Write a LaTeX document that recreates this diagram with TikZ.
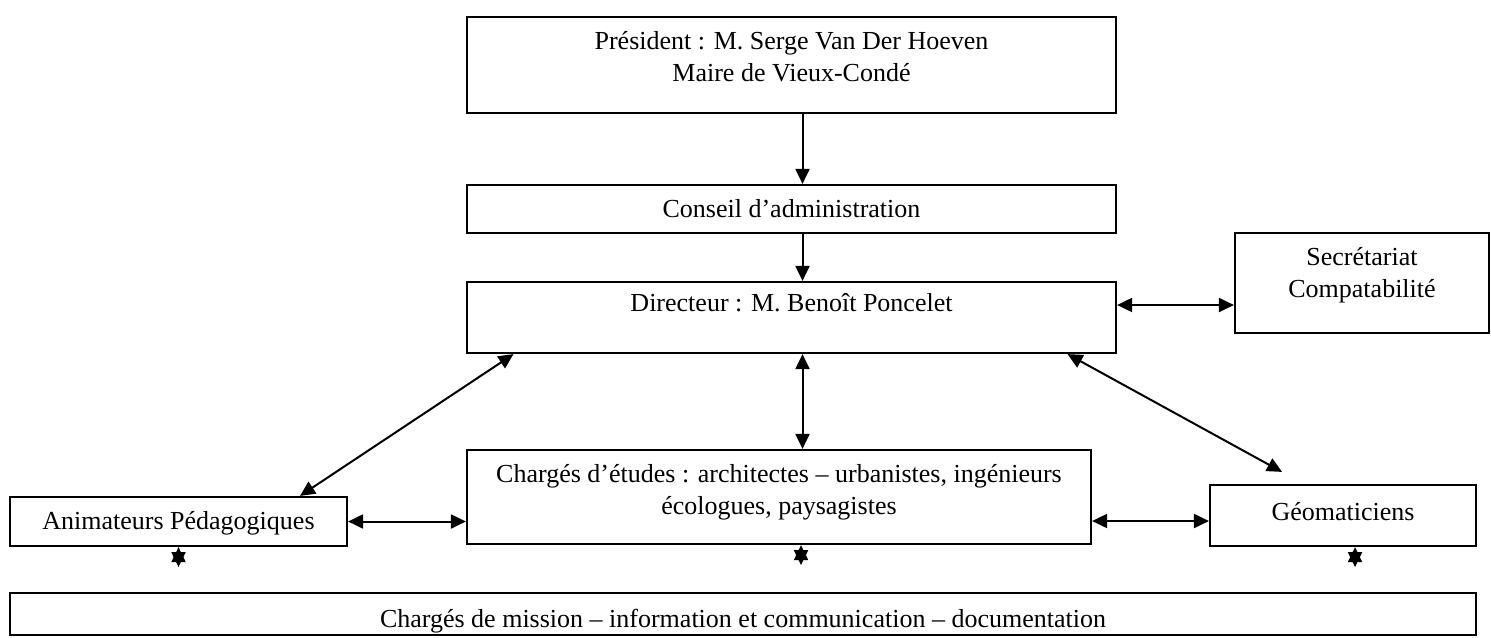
\documentclass[tikz,border=0pt]{standalone}
\usepackage{fontspec}
\setmainfont{Liberation Serif}
\usepackage{tikz}
\usetikzlibrary{arrows.meta}

\tikzset{
  arr/.style={-{Triangle[length=7.5pt,width=7pt]}, line width=1pt},
  twoway/.style={{Triangle[length=7.5pt,width=7pt]}-{Triangle[length=7.5pt,width=7pt]}, line width=1pt}
}

\begin{document}
\begin{tikzpicture}[node distance=50pt, every node/.style={rectangle, draw, line width=1.1pt, inner sep=0pt, align=center, text height=16pt, font=\fontsize{13pt}{16pt}\selectfont}]
    \useasboundingbox (0,0) rectangle (745.5pt,-318.5pt);
    \node (pres) [minimum width=324.5pt, text height=32pt, text depth=16pt] at (395.75pt,-32.5pt) {Président : M. Serge Van Der Hoeven\\Maire de Vieux-Condé};
    \node (conseil) [below of=pres, yshift=-22pt, minimum width=324.5pt, text depth=8pt] {Conseil d’administration};
    \node (dir) [below of=conseil, yshift=-4.25pt, minimum width=324.5pt, text height=14.5pt, text depth=21pt] {Directeur : M. Benoît Poncelet};
    \node (sec) [right of=dir, xshift=235.25pt, yshift=17.25pt, minimum width=127pt, text height=32pt, text depth=18pt] {Secrétariat\\Compatabilité};
    \node (charges) [below of=dir, xshift=-6.25pt, yshift=-39.75pt, minimum width=312pt, text height=32pt, text depth=15pt] {Chargés d’études : architectes – urbanistes, ingénieurs\\écologues, paysagistes};
    \node (anim) [left of=charges, xshift=-250.25pt, yshift=-12.25pt, minimum width=168.5pt, text depth=8.5pt] {Animateurs Pédagogiques};
    \node (geo) [right of=charges, xshift=232pt, yshift=-9.25pt, minimum width=133pt, text height=17.5pt, text depth=13pt] {Géomaticiens};
    \node (mission) [below of=charges, xshift=-18pt, yshift=-8.5pt, minimum width=733pt, text height=17pt, text depth=4pt] {Chargés de mission – information et communication – documentation};
    \coordinate (geotip) at ([xshift=-30.5pt, yshift=6pt]geo.north);

    \draw[arr] ([xshift=5.5pt]pres.south) -- ([xshift=5.5pt]pres.south |- conseil.north);
    \draw[arr] ([xshift=5.5pt]conseil.south) -- ([xshift=5.5pt]conseil.south |- dir.north);
    \draw[twoway] ([xshift=5.5pt]dir.south) -- ([xshift=5.5pt]dir.south |- charges.north);
    \draw[twoway] ([yshift=6.25pt]dir.east) -- ([yshift=6.25pt]dir.east -| sec.west);
    \draw[twoway] ([xshift=-139pt]dir.south) -- ([xshift=60.75pt]anim.north);
    \draw[twoway] ([xshift=138pt]dir.south) -- (geotip);
    \draw[twoway] (anim.east) -- (anim.east -| charges.west);
    \draw[twoway] ([yshift=-12pt]charges.east) -- ([yshift=-12pt]charges.east -| geo.west);
    \draw[twoway] (anim.south) -- ++(0,-10pt);
    \draw[twoway] ([xshift=11pt]charges.south) -- ++(0,-10pt);
    \draw[twoway] ([xshift=6pt]geo.south) -- ++(0,-10pt);
\end{tikzpicture}
\end{document}
